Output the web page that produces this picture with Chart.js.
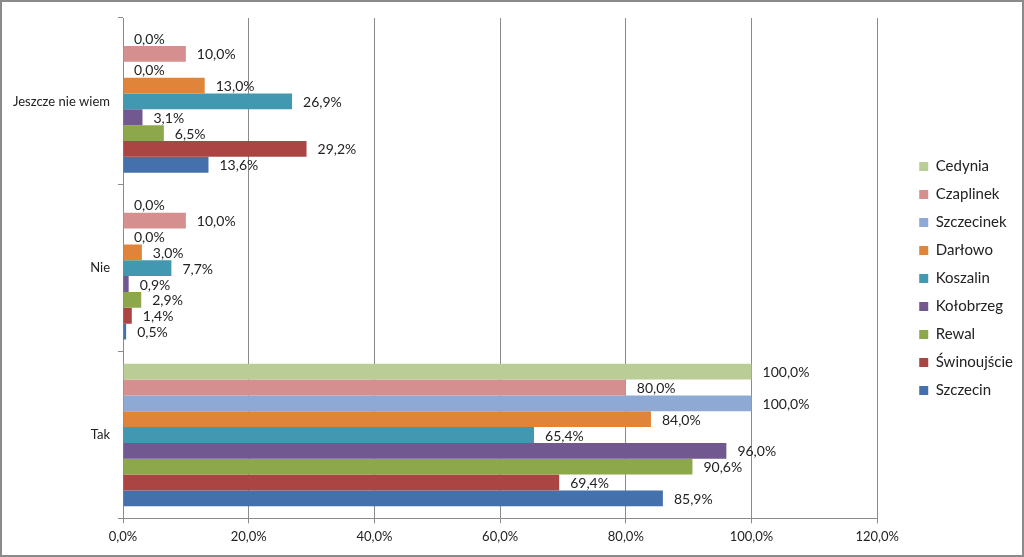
<!DOCTYPE html>
<html>
<head>
<meta charset="utf-8">
<script src="https://cdn.jsdelivr.net/npm/chart.js@4"></script>
<style>
  html, body { margin: 0; padding: 0; background: #fff; }
  #wrap { width: 1024px; height: 557px; box-sizing: border-box; border: 2px solid #8a8a8a; position: relative; }
  #chart { display: block; }
</style>
</head>
<body>
<div id="wrap"><canvas id="chart" width="1020" height="553"></canvas></div>
<script>
// categories, top to bottom
const categories = ['Jeszcze nie wiem', 'Nie', 'Tak'];

// one array per town, values per category (percent)
const cedynia     = [0.0, 0.0, 100.0];
const czaplinek   = [10.0, 10.0, 80.0];
const szczecinek  = [0.0, 0.0, 100.0];
const darlowo     = [13.0, 3.0, 84.0];
const koszalin    = [26.9, 7.7, 65.4];
const kolobrzeg   = [3.1, 0.9, 96.0];
const rewal       = [6.5, 2.9, 90.6];
const swinoujscie = [29.2, 1.4, 69.4];
const szczecin    = [13.6, 0.5, 85.9];

const townNames = ['Cedynia', 'Czaplinek', 'Szczecinek', 'Darłowo', 'Koszalin', 'Kołobrzeg', 'Rewal', 'Świnoujście', 'Szczecin'];
const townValues = [cedynia, czaplinek, szczecinek, darlowo, koszalin, kolobrzeg, rewal, swinoujscie, szczecin];
const townColors = ['#bacd96', '#d58f8e', '#8ea9d4', '#e0843a', '#4198b0', '#71588f', '#8ca84b', '#aa4543', '#4471ac'];

const xTicks = [0, 20, 40, 60, 80, 100, 120];

const fmt = v => v.toFixed(1).replace('.', ',') + '%';
const FONT = 'Lato, "Open Sans", sans-serif';

// value labels after each bar end
const barLabels = {
  id: 'barLabels',
  afterDatasetsDraw(chart) {
    const ctx = chart.ctx;
    ctx.save();
    ctx.font = '14px ' + FONT;
    ctx.fillStyle = '#222';
    ctx.textBaseline = 'middle';
    ctx.textAlign = 'left';
    chart.data.datasets.forEach((ds, i) => {
      chart.getDatasetMeta(i).data.forEach((bar, j) => {
        ctx.fillText(fmt(ds.data[j]), bar.x + 11, bar.y + 1);
      });
    });
    ctx.restore();
  }
};

// widen the legend box so the plot ends at 120% like the original, then slide it back right
const legendSpace = {
  id: 'legendSpace',
  beforeLayout(chart) {
    const lg = chart.legend;
    if (lg && !lg._wide) {
      const fit = lg.fit.bind(lg);
      lg.fit = function () { fit(); this.width += 24; };
      lg._wide = true;
    }
  },
  afterLayout(chart) {
    const lg = chart.legend;
    lg.left += 29; lg.right += 29;
    lg.top -= 6; lg.bottom -= 6;
  }
};

new Chart(document.getElementById('chart'), {
  type: 'bar',
  data: {
    labels: categories,
    datasets: townNames.map((name, i) => ({
      label: name,
      data: townValues[i],
      backgroundColor: townColors[i],
      borderWidth: 0,
      barPercentage: 1.0,
      categoryPercentage: 0.855
    }))
  },
  options: {
    indexAxis: 'y',
    responsive: false,
    animation: false,
    layout: { padding: { top: 16, right: 4, left: 0, bottom: 4 } },
    scales: {
      x: {
        min: 0, max: 120,
        afterBuildTicks: axis => { axis.ticks = xTicks.map(v => ({ value: v })); },
        grid: { color: '#8a8a8a', lineWidth: 1, tickLength: 5, drawTicks: true },
        border: { color: '#8a8a8a' },
        ticks: { color: '#222', font: { family: FONT, size: 13 }, padding: 6, callback: v => fmt(v) }
      },
      y: {
        afterFit: axis => { axis.width = 121; },
        grid: { offset: true, drawOnChartArea: false, color: '#8a8a8a', tickLength: 5 },
        border: { color: '#8a8a8a' },
        ticks: { color: '#222', font: { family: FONT, size: 13 }, padding: 8 }
      }
    },
    plugins: {
      legend: {
        position: 'right',
        labels: {
          color: '#222',
          font: { family: FONT, size: 15 },
          boxWidth: 9, boxHeight: 9,
          padding: 13
        }
      },
      tooltip: { enabled: false }
    }
  },
  plugins: [barLabels, legendSpace]
});
</script>
</body>
</html>
